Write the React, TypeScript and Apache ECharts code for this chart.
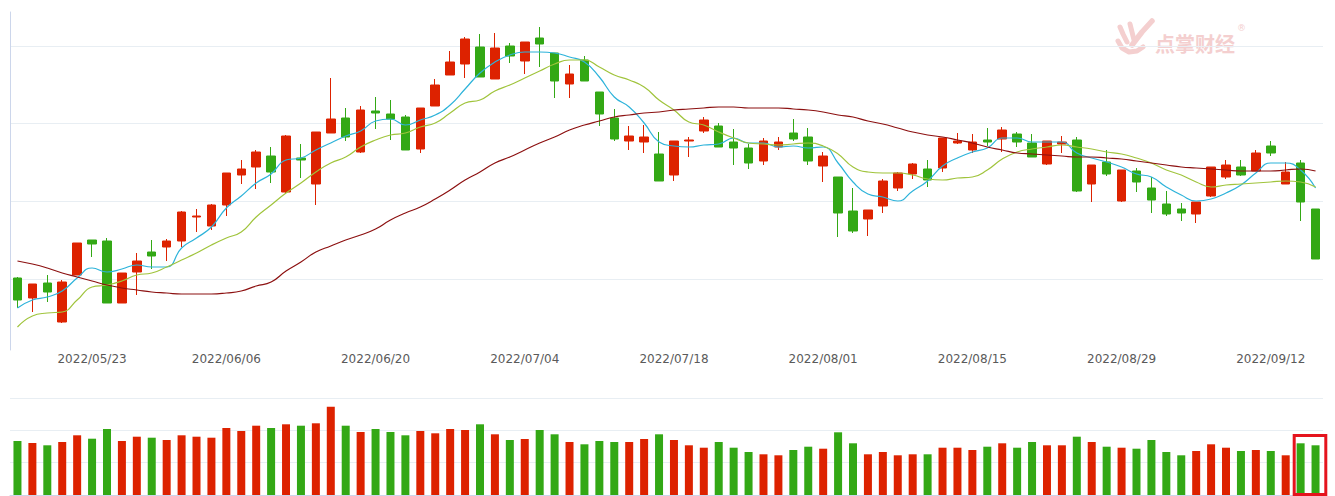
import React, { useEffect, useRef } from "react";
import * as echarts from "echarts";

const dates = [
  "2022/05/16", "2022/05/17", "2022/05/18", "2022/05/19", "2022/05/20",
  "2022/05/23", "2022/05/24", "2022/05/25", "2022/05/26", "2022/05/27",
  "2022/05/30", "2022/05/31", "2022/06/01", "2022/06/02",
  "2022/06/06", "2022/06/07", "2022/06/08", "2022/06/09", "2022/06/10",
  "2022/06/13", "2022/06/14", "2022/06/15", "2022/06/16", "2022/06/17",
  "2022/06/20", "2022/06/21", "2022/06/22", "2022/06/23", "2022/06/24",
  "2022/06/27", "2022/06/28", "2022/06/29", "2022/06/30", "2022/07/01",
  "2022/07/04", "2022/07/05", "2022/07/06", "2022/07/07", "2022/07/08",
  "2022/07/11", "2022/07/12", "2022/07/13", "2022/07/14", "2022/07/15",
  "2022/07/18", "2022/07/19", "2022/07/20", "2022/07/21", "2022/07/22",
  "2022/07/25", "2022/07/26", "2022/07/27", "2022/07/28", "2022/07/29",
  "2022/08/01", "2022/08/02", "2022/08/03", "2022/08/04", "2022/08/05",
  "2022/08/08", "2022/08/09", "2022/08/10", "2022/08/11", "2022/08/12",
  "2022/08/15", "2022/08/16", "2022/08/17", "2022/08/18", "2022/08/19",
  "2022/08/22", "2022/08/23", "2022/08/24", "2022/08/25", "2022/08/26",
  "2022/08/29", "2022/08/30", "2022/08/31", "2022/09/01", "2022/09/02",
  "2022/09/05", "2022/09/06", "2022/09/07", "2022/09/08", "2022/09/09",
  "2022/09/12", "2022/09/13", "2022/09/14", "2022/09/15",
];

const tickLabels = [
  "2022/05/23", "2022/06/06", "2022/06/20", "2022/07/04", "2022/07/18",
  "2022/08/01", "2022/08/15", "2022/08/29", "2022/09/12",
];

// [open, close, low, high]
const candles = [
  [15.72, 15.50, 15.42, 15.73], [15.52, 15.66, 15.38, 15.66], [15.67, 15.58, 15.48, 15.75],
  [15.28, 15.68, 15.27, 15.70], [15.75, 16.07, 15.75, 16.07], [16.10, 16.06, 15.93, 16.10],
  [16.09, 15.47, 15.47, 16.12], [15.47, 15.77, 15.47, 15.77], [15.78, 15.89, 15.55, 15.97],
  [15.98, 15.94, 15.81, 16.10], [16.03, 16.09, 15.89, 16.11], [16.09, 16.38, 16.03, 16.39],
  [16.33, 16.34, 16.18, 16.41], [16.24, 16.45, 16.20, 16.46], [16.45, 16.77, 16.34, 16.77],
  [16.75, 16.81, 16.66, 16.90], [16.83, 16.98, 16.61, 17.00], [16.94, 16.78, 16.67, 17.03],
  [16.58, 17.14, 16.57, 17.15], [16.92, 16.90, 16.72, 17.06], [16.66, 17.18, 16.45, 17.18],
  [17.17, 17.31, 17.17, 17.72], [17.32, 17.13, 17.09, 17.42], [16.98, 17.40, 16.97, 17.44],
  [17.39, 17.37, 17.21, 17.53], [17.36, 17.31, 17.10, 17.50], [17.33, 17.00, 17.00, 17.35],
  [17.01, 17.42, 16.97, 17.42], [17.44, 17.65, 17.44, 17.71], [17.75, 17.88, 17.75, 17.99],
  [17.86, 18.11, 17.72, 18.13], [18.03, 17.73, 17.73, 18.16], [17.71, 18.02, 17.71, 18.17],
  [18.04, 17.94, 17.87, 18.07], [17.89, 18.08, 17.76, 18.08], [18.12, 18.06, 17.83, 18.23],
  [17.97, 17.69, 17.52, 17.97], [17.66, 17.76, 17.52, 17.85], [17.90, 17.69, 17.69, 17.94],
  [17.58, 17.36, 17.24, 17.58], [17.32, 17.11, 17.09, 17.41], [17.09, 17.14, 17.00, 17.24],
  [17.08, 17.13, 16.97, 17.25], [16.96, 16.69, 16.69, 17.18], [16.75, 17.09, 16.69, 17.09],
  [17.09, 17.10, 16.93, 17.13], [17.19, 17.30, 17.17, 17.33], [17.24, 17.03, 17.03, 17.27],
  [17.08, 17.02, 16.85, 17.21], [17.02, 16.87, 16.81, 17.06], [16.89, 17.09, 16.85, 17.12],
  [17.03, 17.08, 17.00, 17.13], [17.17, 17.11, 17.09, 17.31], [17.13, 16.89, 16.85, 17.22],
  [16.84, 16.94, 16.68, 16.98], [16.73, 16.37, 16.13, 16.73], [16.39, 16.19, 16.17, 16.62],
  [16.31, 16.40, 16.14, 16.40], [16.44, 16.69, 16.37, 16.71], [16.62, 16.77, 16.59, 16.78],
  [16.76, 16.86, 16.71, 16.87], [16.81, 16.70, 16.63, 16.90], [16.82, 17.12, 16.78, 17.12],
  [17.07, 17.09, 17.06, 17.17], [17.00, 17.08, 16.97, 17.16], [17.10, 17.08, 17.04, 17.22],
  [17.11, 17.20, 16.98, 17.23], [17.16, 17.08, 17.03, 17.18], [17.07, 16.93, 16.93, 17.16],
  [16.86, 17.09, 16.85, 17.09], [17.06, 17.08, 16.97, 17.14], [17.10, 16.59, 16.58, 17.13],
  [16.66, 16.85, 16.48, 16.85], [16.88, 16.76, 16.74, 17.00], [16.49, 16.80, 16.48, 16.80],
  [16.79, 16.68, 16.58, 16.82], [16.62, 16.50, 16.37, 16.73], [16.46, 16.36, 16.34, 16.59],
  [16.41, 16.37, 16.29, 16.47], [16.36, 16.48, 16.27, 16.48], [16.54, 16.83, 16.53, 16.83],
  [16.73, 16.85, 16.71, 16.90], [16.83, 16.75, 16.74, 16.90], [16.79, 16.97, 16.79, 17.00],
  [17.04, 16.97, 16.94, 17.09], [16.66, 16.78, 16.66, 16.88], [16.87, 16.48, 16.29, 16.90],
  [16.41, 15.91, 15.91, 16.41],
];

const ma5 = [
  15.42, 15.50, 15.53, 15.59, 15.72, 15.82, 15.78, 15.81, 15.85, 15.83,
  15.83, 16.02, 16.12, 16.23, 16.42, 16.54, 16.67, 16.76, 16.90, 16.92,
  17.00, 17.07, 17.14, 17.19, 17.29, 17.31, 17.25, 17.30, 17.35, 17.45,
  17.61, 17.77, 17.88, 17.95, 17.98, 17.98, 17.97, 17.93, 17.88, 17.73,
  17.53, 17.43, 17.27, 17.08, 17.04, 17.03, 17.05, 17.06, 17.12, 17.07,
  17.07, 17.03, 17.04, 17.02, 17.03, 16.87, 16.68, 16.56, 16.53, 16.49,
  16.59, 16.69, 16.84, 16.92, 16.98, 17.02, 17.12, 17.12, 17.08, 17.08,
  17.08, 16.97, 16.92, 16.88, 16.83, 16.76, 16.73, 16.63, 16.55, 16.49,
  16.51, 16.57, 16.65, 16.77, 16.87, 16.87, 16.80, 16.62,
];

const ma10 = [
  15.23, 15.34, 15.37, 15.38, 15.50, 15.63, 15.65, 15.69, 15.75, 15.77,
  15.83, 15.90, 15.97, 16.05, 16.12, 16.18, 16.33, 16.45, 16.57, 16.67,
  16.78, 16.87, 16.93, 17.03, 17.10, 17.15, 17.17, 17.23, 17.27, 17.37,
  17.47, 17.50, 17.59, 17.65, 17.72, 17.79, 17.86, 17.90, 17.90, 17.83,
  17.75, 17.70, 17.63, 17.50, 17.40, 17.28, 17.25, 17.18, 17.12, 17.07,
  17.06, 17.05, 17.06, 17.07, 17.04, 16.96, 16.83, 16.78, 16.77, 16.77,
  16.75, 16.71, 16.70, 16.72, 16.73, 16.80, 16.91, 16.98, 17.01, 17.03,
  17.05, 17.03, 17.01, 16.98, 16.96, 16.92, 16.87, 16.80, 16.75, 16.68,
  16.63, 16.65, 16.66, 16.67, 16.68, 16.69, 16.68, 16.63,
];

const maLong = [
  15.89, 15.86, 15.82, 15.77, 15.73, 15.69, 15.65, 15.62, 15.60, 15.58,
  15.57, 15.56, 15.56, 15.56, 15.57, 15.59, 15.64, 15.68, 15.79, 15.88,
  15.98, 16.04, 16.10, 16.15, 16.21, 16.30, 16.37, 16.43, 16.51, 16.60,
  16.70, 16.78, 16.87, 16.93, 17.00, 17.07, 17.13, 17.20, 17.25, 17.29,
  17.33, 17.35, 17.37, 17.38, 17.40, 17.41, 17.42, 17.43, 17.43, 17.42,
  17.42, 17.42, 17.41, 17.40, 17.38, 17.35, 17.33, 17.29, 17.26, 17.22,
  17.18, 17.15, 17.13, 17.10, 17.07, 17.03, 17.00, 16.97, 16.96, 16.95,
  16.94, 16.93, 16.93, 16.92, 16.91, 16.89, 16.87, 16.85, 16.83, 16.82,
  16.81, 16.80, 16.79, 16.79, 16.79, 16.80, 16.81, 16.79,
];

const volumes = [
  5400, 5200, 4970, 5300, 5970, 5630, 6600, 5400, 5830, 5730,
  5500, 5970, 5830, 5730, 6700, 6400, 6930, 6700, 7070, 6930,
  7170, 8830, 6930, 6300, 6600, 6300, 5970, 6400, 6170, 6600,
  6500, 7070, 6070, 5500, 5600, 6500, 6070, 5300, 5070, 5400,
  5300, 5300, 5600, 6070, 5500, 4970, 4730, 5300, 4730, 4300,
  4070, 3970, 4500, 4830, 4630, 6270, 5170, 4070, 4300, 3970,
  4070, 4070, 4730, 4730, 4500, 4830, 5170, 4730, 5300, 4970,
  4970, 5830, 5300, 4830, 4730, 4630, 5500, 4300, 3970, 4400,
  5070, 4730, 4400, 4500, 4400, 3970, 5170, 4970,
];

const UP = "#dd2200";
const DOWN = "#33a815";
const GRID_LINE = "#e8eef3";
const AXIS_LINE = "#ccd6eb";
const PINK = "#f4cfcf";

export default function App() {
  const ref = useRef<HTMLDivElement>(null);

  useEffect(() => {
    document.body.style.margin = "0";
    if (!ref.current) return;
    const chart = echarts.init(ref.current, null, { renderer: "svg" });

    const volData = volumes.map((v, i) => ({
      value: v,
      itemStyle: { color: candles[i][1] >= candles[i][0] ? UP : DOWN },
    }));

    const hidden = {
      axisLine: { show: false },
      axisTick: { show: false },
      axisLabel: { show: false },
      splitLine: { show: false },
    };

    const stroke = (w: number) => ({
      stroke: PINK,
      lineWidth: w,
      lineCap: "round",
      lineJoin: "round",
      fill: null,
    });

    chart.setOption({
      animation: false,
      backgroundColor: "#ffffff",
      grid: [
        { left: 10, right: 12, top: 12, height: 338 },
        { left: 10, right: 12, top: 398, height: 97 },
      ],
      xAxis: [
        {
          type: "category",
          gridIndex: 0,
          data: dates,
          boundaryGap: true,
          axisLine: { show: false },
          axisTick: { show: false },
          splitLine: { show: false },
          axisLabel: {
            interval: (_i: number, v: string) => tickLabels.includes(v),
            color: "#5a5a5a",
            fontSize: 12,
            fontFamily: "DejaVu Sans",
            margin: 3,
          },
        },
        {
          type: "category",
          gridIndex: 1,
          data: dates,
          boundaryGap: true,
          axisLine: { show: true, lineStyle: { color: AXIS_LINE, width: 1 } },
          axisTick: { show: false },
          axisLabel: { show: false },
          splitLine: { show: false },
        },
      ],
      yAxis: [
        {
          type: "value",
          gridIndex: 0,
          min: 15.0,
          max: 18.38,
          ...hidden,
          axisLine: { show: true, lineStyle: { color: AXIS_LINE, width: 1 } },
        },
        {
          type: "value",
          gridIndex: 0,
          min: 16.086,
          max: 20.438,
          splitNumber: 4,
          ...hidden,
          splitLine: {
            show: true,
            showMinLine: false,
            showMaxLine: false,
            lineStyle: { color: GRID_LINE, width: 1 },
          },
        },
        {
          type: "value",
          gridIndex: 1,
          min: 0,
          max: 9700,
          interval: 9700 / 3,
          ...hidden,
          splitLine: {
            show: true,
            showMinLine: false,
            lineStyle: { color: GRID_LINE, width: 1 },
          },
        },
      ],
      series: [
        {
          type: "candlestick",
          xAxisIndex: 0,
          yAxisIndex: 0,
          data: candles,
          barWidth: 9,
          itemStyle: {
            color: UP,
            color0: DOWN,
            borderColor: UP,
            borderColor0: DOWN,
            borderWidth: 1,
          },
        },
        {
          type: "line",
          name: "MA5",
          xAxisIndex: 0,
          yAxisIndex: 0,
          data: ma5,
          smooth: true,
          showSymbol: false,
          symbol: "none",
          lineStyle: { color: "#2db3da", width: 1.2 },
        },
        {
          type: "line",
          name: "MA10",
          xAxisIndex: 0,
          yAxisIndex: 0,
          data: ma10,
          smooth: true,
          showSymbol: false,
          symbol: "none",
          lineStyle: { color: "#a0c43c", width: 1.2 },
        },
        {
          type: "line",
          name: "MA60",
          xAxisIndex: 0,
          yAxisIndex: 0,
          data: maLong,
          smooth: true,
          showSymbol: false,
          symbol: "none",
          lineStyle: { color: "#8c1010", width: 1.2 },
        },
        {
          type: "bar",
          xAxisIndex: 1,
          yAxisIndex: 2,
          data: volData,
          barWidth: 8,
        },
      ],
      graphic: [
        {
          type: "group",
          z: 0,
          silent: true,
          children: [
            {
              type: "polyline",
              shape: { points: [[1120, 27], [1123, 34], [1127, 42]] },
              style: stroke(5),
            },
            {
              type: "polyline",
              shape: { points: [[1130, 24], [1132, 32], [1134, 40]] },
              style: stroke(5),
            },
            {
              type: "polyline",
              shape: { points: [[1152, 21], [1142, 32], [1132, 45]] },
              style: stroke(5.5),
            },
            {
              type: "polyline",
              shape: { points: [[1118, 41], [1122, 48], [1129, 52], [1137, 51], [1143, 47]] },
              style: stroke(5),
            },
            {
              type: "text",
              x: 1155,
              y: 33,
              style: {
                text: "点掌财经",
                fill: PINK,
                font: 'bold 20px "Noto Sans CJK SC"',
              },
            },
            {
              type: "text",
              x: 1237,
              y: 23,
              style: {
                text: "®",
                fill: PINK,
                font: '9px "DejaVu Sans"',
              },
            },
          ],
        },
        {
          type: "rect",
          z: 100,
          silent: true,
          shape: { x: 1294.2, y: 435.5, width: 31.6, height: 59 },
          style: { stroke: "#e5141e", lineWidth: 3, fill: null },
        },
      ],
    });

    return () => chart.dispose();
  }, []);

  return <div ref={ref} style={{ width: 1335, height: 496 }} />;
}
